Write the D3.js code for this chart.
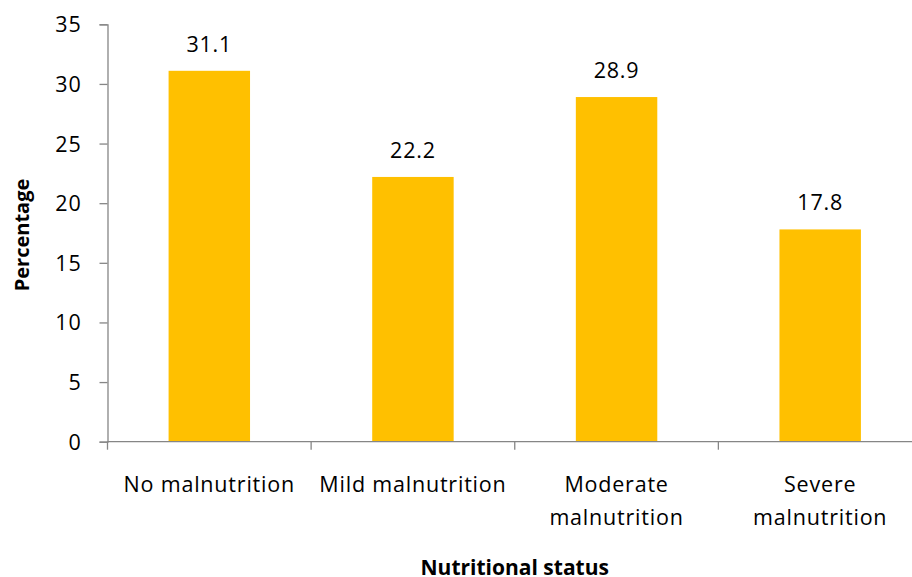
<!DOCTYPE html>
<html>
<head>
<meta charset="utf-8">
<script src="https://cdn.jsdelivr.net/npm/d3@7"></script>
<style>
  html, body { margin: 0; padding: 0; background: #fff; }
  svg text { font-family: "Open Sans", Lato, sans-serif; fill: #000; }
  .lbl { font-size: 21.5px; letter-spacing: 0.8px; }
  .ttl { font-size: 21px; font-weight: bold; }
</style>
</head>
<body>
<svg id="chart" width="912" height="577"></svg>
<script>
// Nutritional status distribution (%)
const categories = [
  ["No malnutrition"],
  ["Mild malnutrition"],
  ["Moderate", "malnutrition"],
  ["Severe", "malnutrition"]
];
const values = [31.1, 22.2, 28.9, 17.8];
const yTicks = [0, 5, 10, 15, 20, 25, 30, 35];

const svg = d3.select("#chart");
const plotLeft = 107.5, plotRight = 922, plotTop = 24.3, plotBottom = 441.7;

const keys = categories.map(c => c.join(" "));
const x = d3.scaleBand().domain(keys).range([plotLeft, plotRight])
  .paddingInner(0.6).paddingOuter(0.3);
const xCat = d3.scaleBand().domain(keys).range([plotLeft, plotRight]).padding(0);
const y = d3.scaleLinear().domain([0, 35]).range([plotBottom, plotTop]);

const axisColor = "#868686";

// Bars
svg.append("g").selectAll("rect").data(values).join("rect")
  .attr("x", (d, i) => x(keys[i]))
  .attr("width", x.bandwidth())
  .attr("y", d => y(d))
  .attr("height", d => y(0) - y(d))
  .attr("fill", "#FFC000");

// Value labels
svg.append("g").selectAll("text").data(values).join("text")
  .attr("class", "lbl")
  .attr("x", (d, i) => x(keys[i]) + x.bandwidth() / 2)
  .attr("y", d => y(d) - 19)
  .attr("text-anchor", "middle")
  .text(d => d.toFixed(1));

// Y axis
const yAxis = svg.append("g").attr("transform", `translate(${plotLeft},0)`)
  .call(d3.axisLeft(y).tickValues(yTicks).tickSize(8).tickPadding(18));
yAxis.attr("font-family", null).attr("font-size", null);
yAxis.select(".domain").attr("stroke", axisColor).attr("stroke-width", 1.3);
yAxis.selectAll(".tick line").attr("stroke", axisColor).attr("stroke-width", 1.3);
yAxis.selectAll(".tick text").attr("class", "lbl").attr("dy", "0.35em").attr("fill", "#000");

// X axis: ticks at category boundaries
const boundaries = keys.map(k => xCat(k)).concat([plotRight]);
svg.append("line")
  .attr("x1", plotLeft).attr("x2", plotRight).attr("y1", plotBottom).attr("y2", plotBottom)
  .attr("stroke", axisColor).attr("stroke-width", 1.3);
svg.append("g").selectAll("line").data(boundaries).join("line")
  .attr("x1", d => d).attr("x2", d => d)
  .attr("y1", plotBottom).attr("y2", plotBottom + 8)
  .attr("stroke", axisColor).attr("stroke-width", 1.3);

// Category labels
const catG = svg.append("g").selectAll("text").data(categories).join("text")
  .attr("class", "lbl")
  .attr("text-anchor", "middle")
  .attr("x", (d, i) => xCat(keys[i]) + xCat.bandwidth() / 2)
  .attr("y", 492);
catG.selectAll("tspan").data(d => d).join("tspan")
  .attr("x", function () { return d3.select(this.parentNode).attr("x"); })
  .attr("dy", (d, i) => i === 0 ? 0 : 33)
  .text(d => d);

// Axis titles
svg.append("text")
  .attr("class", "ttl")
  .attr("x", (plotLeft + plotRight) / 2).attr("y", 575)
  .attr("text-anchor", "middle")
  .text("Nutritional status");
svg.append("text")
  .attr("class", "ttl")
  .style("font-size", "20px")
  .attr("transform", `translate(29,${(plotTop + plotBottom) / 2 + 2}) rotate(-90)`)
  .attr("text-anchor", "middle")
  .text("Percentage");
</script>
</body>
</html>
